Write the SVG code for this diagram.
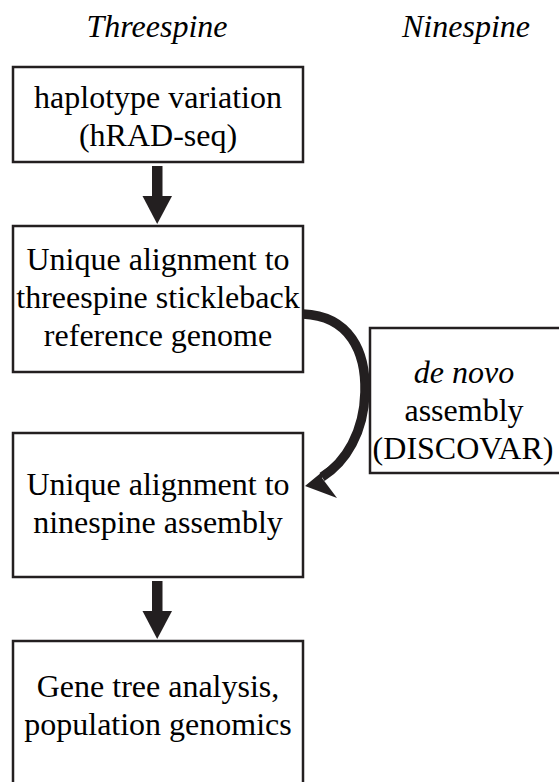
<svg xmlns="http://www.w3.org/2000/svg" width="559" height="782" viewBox="0 0 559 782">
  <style>
    .it { font-style: italic; }
    .box { fill: #ffffff; stroke: #231f20; stroke-width: 2.5; }
    .arrow { fill: #231f20; }
    .curve { fill: none; stroke: #231f20; stroke-width: 9.5; }
  </style>
  <rect width="559" height="782" fill="#ffffff"/>

  <g font-family="Times New Roman, Liberation Serif, Tinos, Noto Serif, DejaVu Serif, FreeSerif, serif" font-size="32" text-anchor="middle" fill="#000000">
    <!-- column headings -->
    <g id="col-threespine">
      <text class="it" x="157" y="37">Threespine</text>
    </g>
    <g id="col-ninespine">
      <text class="it" x="466" y="37">Ninespine</text>
    </g>

    <g id="node-haplotype">
      <rect class="box" x="13" y="67" width="290" height="95"/>
      <text x="158" y="108">haplotype variation</text>
      <text x="158" y="146">(hRAD-seq)</text>
    </g>

    <g id="node-align-threespine">
      <rect class="box" x="13" y="226" width="290" height="146"/>
      <text x="158" y="270">Unique alignment to</text>
      <text x="158" y="308">threespine stickleback</text>
      <text x="158" y="346">reference genome</text>
    </g>

    <g id="node-denovo">
      <rect class="box" x="370" y="328" width="200" height="145"/>
      <text class="it" x="464" y="383">de novo</text>
      <text x="464" y="421">assembly</text>
      <text x="463" y="459">(DISCOVAR)</text>
    </g>

    <g id="node-align-ninespine">
      <rect class="box" x="13" y="433" width="290" height="144"/>
      <text x="158" y="495">Unique alignment to</text>
      <text x="158" y="533">ninespine assembly</text>
    </g>

    <g id="node-analysis">
      <rect class="box" x="13" y="641" width="290" height="150"/>
      <text x="158" y="697">Gene tree analysis,</text>
      <text x="158" y="735">population genomics</text>
    </g>
  </g>

  <g id="connectors">
    <!-- haplotype -> threespine alignment -->
    <rect class="arrow" x="152" y="166" width="10.5" height="31"/>
    <polygon class="arrow" points="142.5,196 172,196 157.2,224"/>
    <!-- threespine alignment -> ninespine alignment, via de novo assembly -->
    <path class="curve" d="M303,314 C350,316 366,352 365,392 C364,432 346,462 322,477"/>
    <polygon class="arrow" points="305,486 333,463 322,478 337,498"/>
    <!-- ninespine alignment -> analysis -->
    <rect class="arrow" x="152" y="581" width="10.5" height="31"/>
    <polygon class="arrow" points="142.5,611 172,611 157.2,639"/>
  </g>
</svg>
